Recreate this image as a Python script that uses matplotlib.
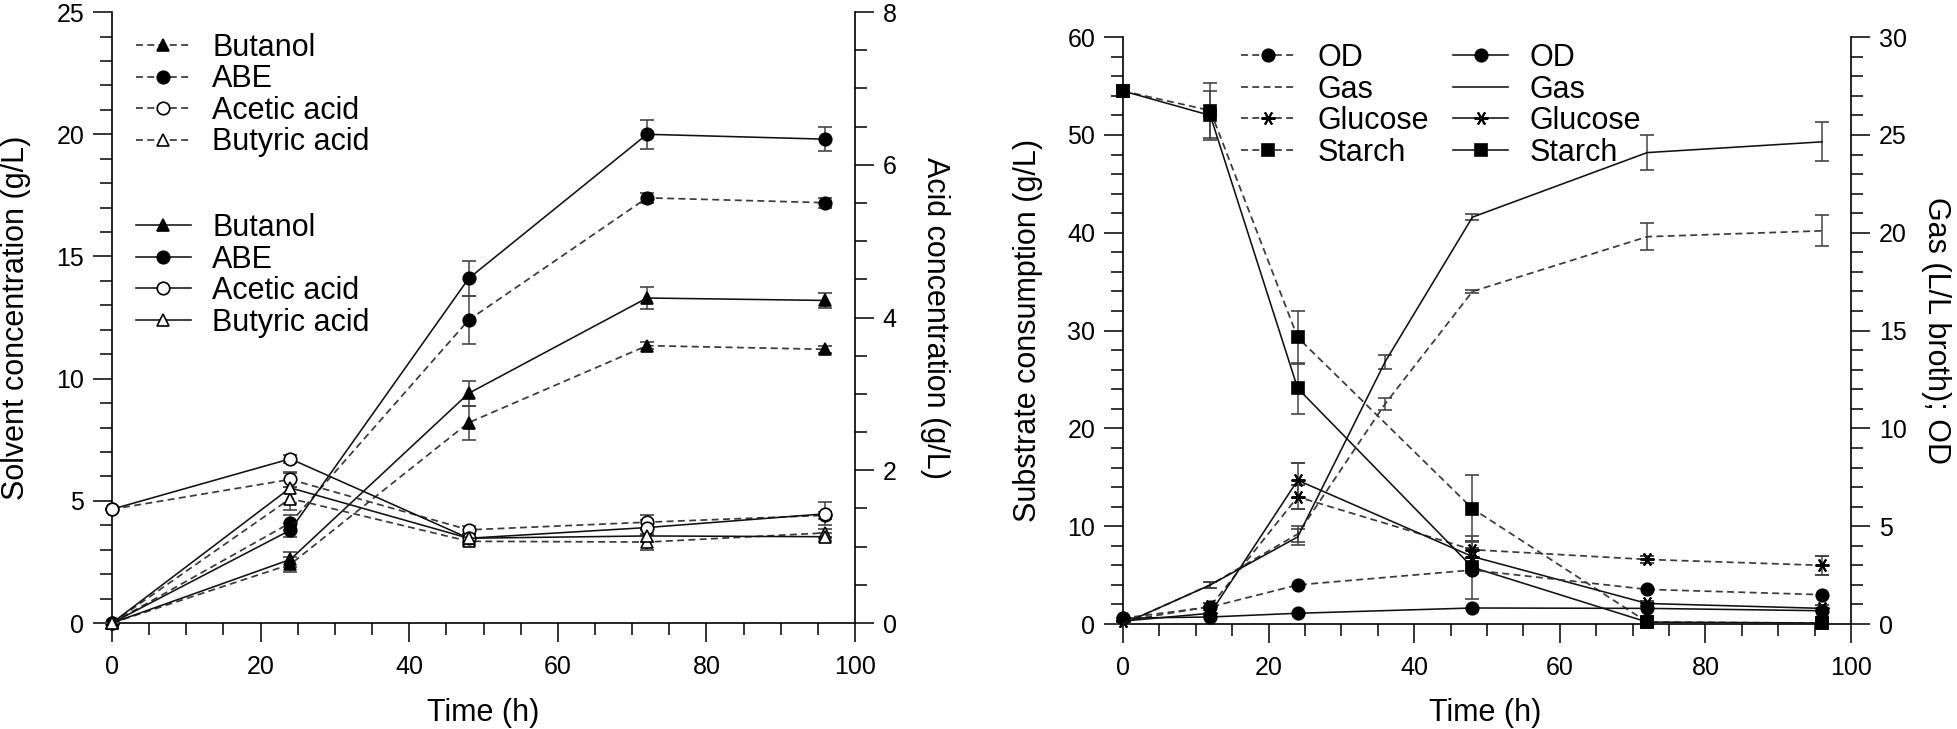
import matplotlib
matplotlib.use("Agg")
import matplotlib.pyplot as plt
from matplotlib.ticker import MultipleLocator

plt.rcParams['font.family'] = ['Liberation Sans', 'DejaVu Sans']

# ---------------- Left panel data (solvents g/L, acids g/L) ----------------
time_a = [0, 24, 48, 72, 96]
butanol_solid = [0, 2.6, 9.4, 13.3, 13.2]
butanol_solid_err = [0, 0.3, 0.5, 0.45, 0.3]
butanol_dash = [0, 2.4, 8.2, 11.35, 11.2]
butanol_dash_err = [0, 0.3, 0.7, 0.15, 0.15]
abe_solid = [0, 3.8, 14.1, 20.0, 19.8]
abe_solid_err = [0, 0.3, 0.7, 0.6, 0.5]
abe_dash = [0, 4.1, 12.4, 17.4, 17.2]
abe_dash_err = [0, 0.3, 1.0, 0.2, 0.2]
acetic_solid = [1.49, 2.15, 1.11, 1.25, 1.43]
acetic_solid_err = [0, 0.05, 0.05, 0.1, 0.15]
acetic_dash = [1.49, 1.88, 1.22, 1.32, 1.41]
acetic_dash_err = [0, 0.1, 0.05, 0.1, 0.05]
butyric_solid = [0, 1.77, 1.11, 1.14, 1.13]
butyric_solid_err = [0, 0.2, 0.05, 0.08, 0.05]
butyric_dash = [0, 1.63, 1.07, 1.06, 1.18]
butyric_dash_err = [0, 0.15, 0.05, 0.1, 0.05]

# ---------------- Right panel data ----------------
time_b = [0, 12, 24, 48, 72, 96]
time_gas = [0, 12, 24, 36, 48, 72, 96]
od_solid = [0.3, 0.36, 0.55, 0.82, 0.8, 0.68]
od_dash = [0.3, 0.87, 2.0, 2.76, 1.77, 1.5]
gas_solid = [0, 2.0, 4.45, 13.4, 20.8, 24.1, 24.65]
gas_solid_err = [0, 0.15, 0.4, 0.35, 0.15, 0.9, 1.0]
gas_dash = [0, 2.0, 4.6, 11.25, 17.0, 19.8, 20.1]
gas_dash_err = [0, 0.15, 0.4, 0.3, 0.1, 0.7, 0.8]
glucose_solid = [0.3, 1.1, 14.7, 6.9, 2.1, 1.6]
glucose_solid_err = [0, 0.3, 1.8, 0.9, 0.3, 0.3]
glucose_dash = [0.3, 1.8, 13.0, 7.6, 6.6, 6.0]
glucose_dash_err = [0, 0.3, 1.2, 0.9, 0.4, 1.0]
starch_solid = [54.5, 52.0, 24.1, 5.8, 0.2, 0.1]
starch_solid_err = [0.5, 2.5, 2.6, 3.2, 0.2, 0.1]
starch_dash = [54.5, 52.5, 29.3, 11.8, 0.2, 0.1]
starch_dash_err = [0.5, 2.8, 2.7, 3.4, 0.2, 0.1]

SOLID = dict(color='#111111', ls='-', lw=1.15)
DASH = dict(color='#3a3a3a', ls=(0, (4, 2.5)), lw=1.25)
ERR = dict(ecolor='#444444', elinewidth=1.1, capsize=5, capthick=1.1)

TICK_FS = 18
LABEL_FS = 22
LEG_FS = 22


def series(ax, x, y, err, style, marker, mfc, ms=9, mew=1.2):
    eb = ax.errorbar(x, y, yerr=err, marker=marker, mfc=mfc, mec='black',
                     ms=ms, mew=mew, clip_on=False, zorder=3, **style, **ERR)
    for a in list(eb.lines[1]) + list(eb.lines[2]):
        a.set_clip_on(False)
    return eb[0]


def style_axes(ax, xminor, yminor, side='left'):
    ax.spines['top'].set_visible(False)
    if side == 'left':
        ax.spines['right'].set_visible(False)
    else:
        ax.spines['left'].set_visible(False)
        ax.spines['bottom'].set_visible(False)
    for s in ax.spines.values():
        s.set_linewidth(1.2)
    ax.yaxis.set_minor_locator(MultipleLocator(yminor))
    ax.tick_params(axis='y', which='major', length=14, width=1.1,
                   labelsize=TICK_FS, pad=6, direction='out')
    ax.tick_params(axis='y', which='minor', length=8.5, width=1.1, direction='out')
    if side == 'left':
        ax.xaxis.set_minor_locator(MultipleLocator(xminor))
        ax.tick_params(axis='x', which='major', length=14, width=1.1,
                       labelsize=TICK_FS, pad=9, direction='out')
        ax.tick_params(axis='x', which='minor', length=8.5, width=1.1, direction='out')


fig = plt.figure(figsize=(19.58, 7.29), dpi=100)

# ================= Left panel =================
axL = fig.add_axes([0.0572, 0.1454, 0.3795, 0.838])
axLr = axL.twinx()
axL.set_xlim(0, 100)
axL.set_ylim(0, 25)
axLr.set_ylim(0, 8)
axL.xaxis.set_major_locator(MultipleLocator(20))
axL.yaxis.set_major_locator(MultipleLocator(5))
axLr.yaxis.set_major_locator(MultipleLocator(2))
style_axes(axL, 5, 1, 'left')
style_axes(axLr, 5, 0.5, 'right')

h_but_d = series(axL, time_a, butanol_dash, butanol_dash_err, DASH, '^', 'black')
h_abe_d = series(axL, time_a, abe_dash, abe_dash_err, DASH, 'o', 'black')
h_but_s = series(axL, time_a, butanol_solid, butanol_solid_err, SOLID, '^', 'black')
h_abe_s = series(axL, time_a, abe_solid, abe_solid_err, SOLID, 'o', 'black')
h_ace_d = series(axLr, time_a, acetic_dash, acetic_dash_err, DASH, 'o', 'white')
h_buy_d = series(axLr, time_a, butyric_dash, butyric_dash_err, DASH, '^', 'white')
h_ace_s = series(axLr, time_a, acetic_solid, acetic_solid_err, SOLID, 'o', 'white')
h_buy_s = series(axLr, time_a, butyric_solid, butyric_solid_err, SOLID, '^', 'white')

axL.set_xlabel('Time (h)', fontsize=LABEL_FS)
axL.xaxis.set_label_coords(0.5, -0.123)
axL.set_ylabel('Solvent concentration (g/L)', fontsize=LABEL_FS, ha='center', va='center')
axL.yaxis.set_label_coords(-0.129, 0.5)
axLr.set_ylabel('Acid concentration (g/L)', fontsize=LABEL_FS, rotation=270,
                ha='center', va='center')
axLr.yaxis.set_label_coords(1.108, 0.5)

names_a = ['Butanol', 'ABE', 'Acetic acid', 'Butyric acid']
leg_kw = dict(loc='upper left', frameon=False, fontsize=LEG_FS, handlelength=1.8,
              handletextpad=0.7, labelspacing=0.05, borderpad=0, borderaxespad=0,
              numpoints=1)
leg1 = axLr.legend([h_but_d, h_abe_d, h_ace_d, h_buy_d], names_a,
                   bbox_to_anchor=(0.032, 0.966), **leg_kw)
axLr.add_artist(leg1)
axLr.legend([h_but_s, h_abe_s, h_ace_s, h_buy_s], names_a,
            bbox_to_anchor=(0.032, 0.671), **leg_kw)

# ================= Right panel =================
axR = fig.add_axes([0.5735, 0.144, 0.3719, 0.805])
axRr = axR.twinx()
axR.set_xlim(0, 100)
axR.set_ylim(0, 60)
axRr.set_ylim(0, 30)
axR.xaxis.set_major_locator(MultipleLocator(20))
axR.yaxis.set_major_locator(MultipleLocator(10))
axRr.yaxis.set_major_locator(MultipleLocator(5))
style_axes(axR, 5, 2, 'left')
style_axes(axRr, 5, 1, 'right')

STAR = (6, 2, 90)
h_glu_d = series(axR, time_b, glucose_dash, glucose_dash_err, DASH, STAR, 'black', ms=10, mew=1.4)
h_st_d = series(axR, time_b, starch_dash, starch_dash_err, DASH, 's', 'black')
h_glu_s = series(axR, time_b, glucose_solid, glucose_solid_err, SOLID, STAR, 'black', ms=10, mew=1.4)
h_st_s = series(axR, time_b, starch_solid, starch_solid_err, SOLID, 's', 'black')
h_od_d = series(axRr, time_b, od_dash, None, DASH, 'o', 'black')
h_od_s = series(axRr, time_b, od_solid, None, SOLID, 'o', 'black')
h_gas_d = series(axRr, time_gas, gas_dash, gas_dash_err, DASH, 'None', 'black')
h_gas_s = series(axRr, time_gas, gas_solid, gas_solid_err, SOLID, 'None', 'black')

axR.set_xlabel('Time (h)', fontsize=LABEL_FS)
axR.xaxis.set_label_coords(0.498, -0.126)
axR.set_ylabel('Substrate consumption (g/L)', fontsize=LABEL_FS, ha='center', va='center')
axR.yaxis.set_label_coords(-0.131, 0.5)
axRr.set_ylabel('Gas (L/L broth); OD', fontsize=LABEL_FS, rotation=270,
                ha='center', va='center')
axRr.yaxis.set_label_coords(1.117, 0.5)

names_b = ['OD', 'Gas', 'Glucose', 'Starch']
axRr.legend([h_od_d, h_gas_d, h_glu_d, h_st_d, h_od_s, h_gas_s, h_glu_s, h_st_s],
            names_b + names_b, ncol=2, columnspacing=0.8,
            bbox_to_anchor=(0.162, 0.99), **leg_kw)

fig.savefig('out.png', dpi=100)
